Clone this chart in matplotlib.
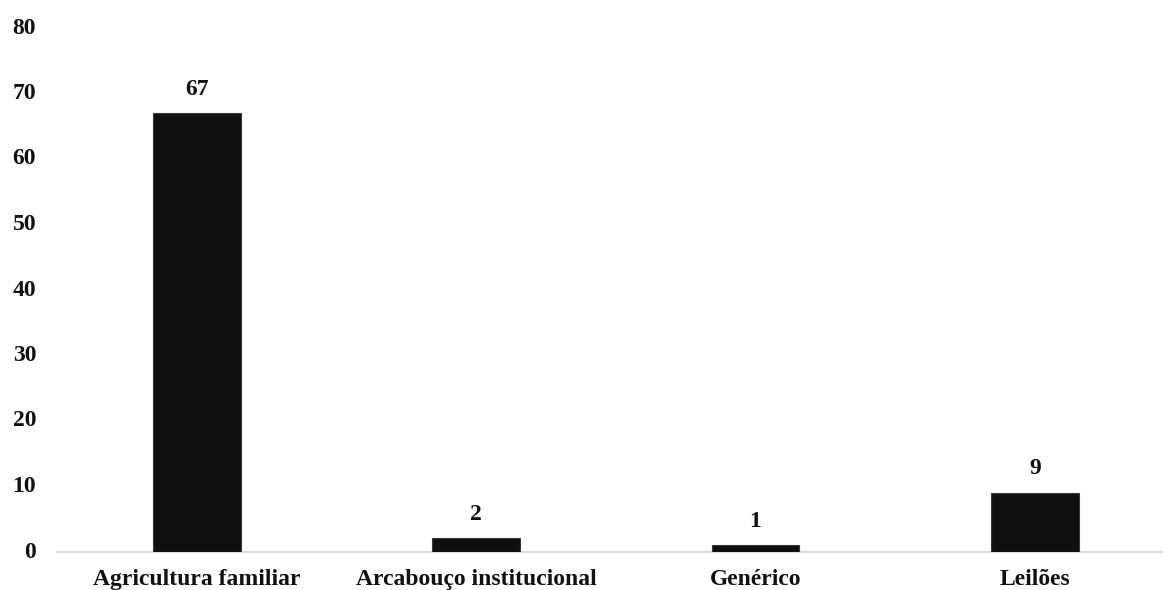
import matplotlib
matplotlib.use('Agg')
import matplotlib.pyplot as plt
from matplotlib.transforms import ScaledTranslation

categories = ['Agricultura familiar', 'Arcabouço institucional', 'Genérico', 'Leilões']
counts = [67, 2, 1, 9]
y_ticks = [0, 10, 20, 30, 40, 50, 60, 70, 80]

plt.rcParams['font.family'] = ['Liberation Serif', 'DejaVu Serif']
plt.rcParams['font.weight'] = 'bold'

W, H = 1163, 590
fig = plt.figure(figsize=(W / 100, H / 100), dpi=100)
ax = fig.add_axes([57 / W, (H - 551.5) / H, (1162 - 57) / W, (551.5 - 27.5) / H])

x = list(range(len(categories)))
bars = ax.bar(x, counts, width=0.314, color='#101010', edgecolor='#3a3a3a', linewidth=0.8, zorder=3)

for xi, v in zip(x, counts):
    ax.annotate(str(v), (xi, v), xytext=(0, 13), textcoords='offset points',
                ha='center', va='baseline', fontsize=17, fontweight='bold', color='#111111')

ax.set_xlim(-0.5, 3.455)
ax.set_ylim(0, 80)
ax.set_yticks(y_ticks)
ax.set_xticks(x)
ax.set_xticklabels(categories)

for s in ['top', 'right', 'left']:
    ax.spines[s].set_visible(False)
ax.spines['bottom'].set_color('#d9d9d9')
ax.spines['bottom'].set_linewidth(1.5)
ax.spines['bottom'].set_zorder(2)

ax.tick_params(axis='y', length=0, pad=15, labelsize=17, colors='#111111')
ax.tick_params(axis='x', length=0, pad=12.5, labelsize=17, colors='#111111')
# nudge the value-axis labels up a little
nudge = ScaledTranslation(0, 2 / 100, fig.dpi_scale_trans)
for lbl in ax.get_yticklabels():
    lbl.set_fontweight('bold')
    lbl.set_transform(lbl.get_transform() + nudge)
for lbl in ax.get_xticklabels():
    lbl.set_fontweight('bold')

fig.savefig('out.png', dpi=100)
